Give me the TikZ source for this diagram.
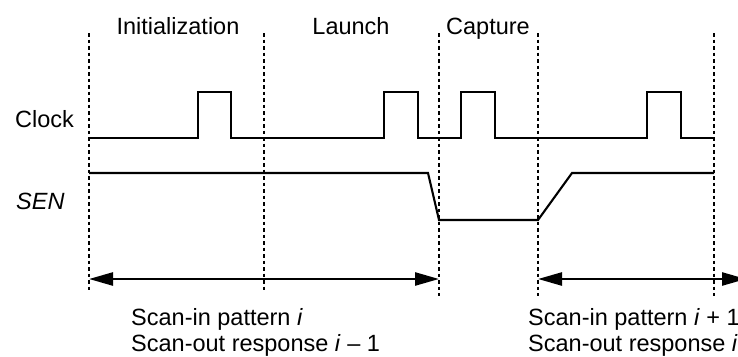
\documentclass[tikz,border=0pt]{standalone}
\usepackage{fontspec}
\setmainfont{Liberation Sans}
\usetikzlibrary{arrows.meta}

\begin{document}
\begin{tikzpicture}[x=1pt, y=-1pt,
    every node/.style={font=\fontsize{23.5}{27}\selectfont, inner sep=0pt},
    sig/.style={line width=2.1pt, line join=miter},
    divline/.style={line width=2pt, dash pattern=on 3.5pt off 3pt},
    arr/.style={{Triangle[length=24pt,width=13pt]}-{Triangle[length=24pt,width=13pt]}, line width=2.5pt}
]
\useasboundingbox (0,0) rectangle (738,356);
% phase boundaries
\foreach \x/\n/\b in {89/a/290, 264/b/290, 439/c/296, 538/d/296, 714/e/296} {
  \coordinate (t\n) at (\x,33);
  \coordinate (b\n) at (\x,\b);
  \draw[divline] (t\n) -- (b\n);
}
\node[anchor=base] (init)   at (178,34) {Initialization};
\node[anchor=base] (launch) at (351,34) {Launch};
\node[anchor=base] (capt)   at (488,34) {Capture};
\node[anchor=base west] (clk) at (15,127) {Clock};
\node[anchor=base west] (sen) at (16,209) {\itshape SEN};
% waveforms
\draw[sig] (89,138) -| (198,92) -| (231,138) -| (384,92) -| (418,138)
  -| (461,92) -| (495,138) -| (647,92) -| (681,138) -- (714,138);
\draw[sig] (89,173) -- (428,173) -- (439,220) -- (538,220) -- (572,173) -- (714,173);
% scan windows
\coordinate (s1) at (89,279);
\coordinate (e1) at (439,279);
\coordinate (s2) at (538,279);
\coordinate (e2) at (746,279);
\draw[arr] (s1) -- (e1);
\draw[arr] (s2) -- (e2);
\node[anchor=base west] (in1)  at (131,325) {Scan-in pattern \textit{i}};
\node[anchor=base west] (out1) at (131,351) {Scan-out response \textit{i} – 1};
\node[anchor=base west] (in2)  at (528,325) {Scan-in pattern \textit{i} + 1};
\node[anchor=base west] (out2) at (528,351) {Scan-out response \textit{i}};
\end{tikzpicture}
\end{document}
